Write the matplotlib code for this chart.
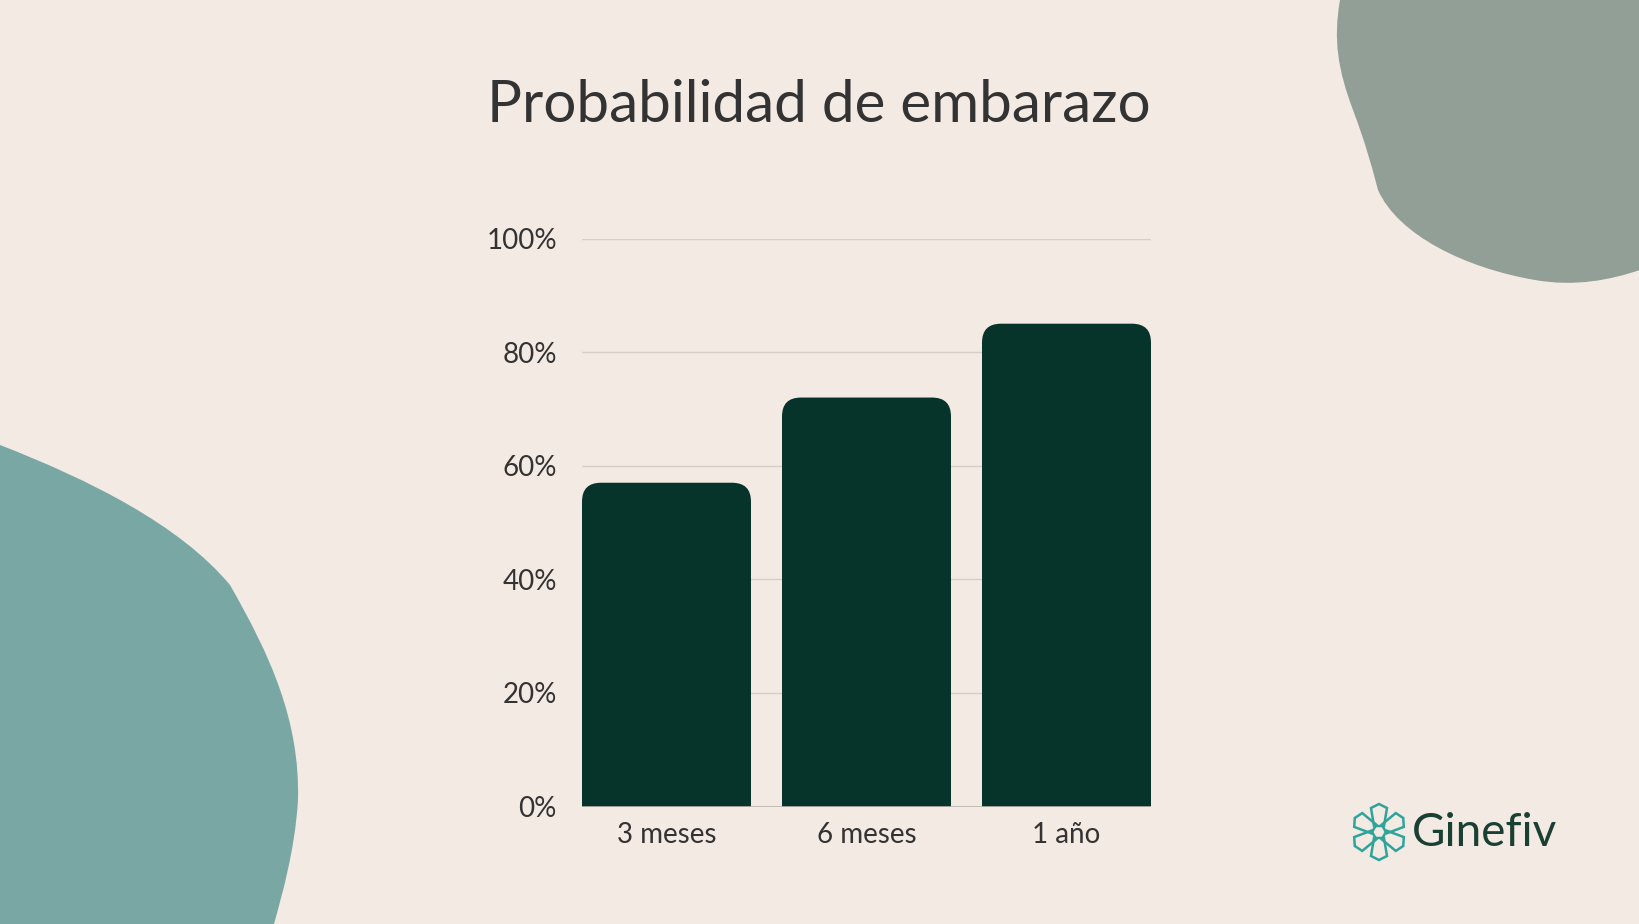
import numpy as np
import matplotlib.pyplot as plt
from matplotlib.patches import FancyBboxPatch, Rectangle, PathPatch, Polygon
from matplotlib.path import Path

# data
categories = ['3 meses', '6 meses', '1 año']
values = [57, 72, 85]
yticks = [0, 20, 40, 60, 80, 100]
ytick_labels = ['0%', '20%', '40%', '60%', '80%', '100%']

bg = '#F4EAE4'
bar_color = '#06332A'
text_color = '#333333'
W, H = 1640, 924

fig = plt.figure(figsize=(16.4, 9.24), dpi=100, facecolor=bg)

# background decoration in pixel coordinates (y down)
deco = fig.add_axes([0, 0, 1, 1], zorder=0)
deco.set_xlim(0, W)
deco.set_ylim(H, 0)
deco.axis('off')
deco.set_facecolor(bg)

# top-right blob
tr = [(1340, 0), (1333, 40), (1338, 70), (1353, 110),
      (1366, 145), (1370, 160), (1378, 190),
      (1398, 235), (1465, 268), (1535, 280),
      (1575, 287), (1610, 280), (1640, 270),
      (1640, 0), (1340, 0)]
tr_codes = [Path.MOVETO, Path.CURVE4, Path.CURVE4, Path.CURVE4,
            Path.CURVE4, Path.CURVE4, Path.CURVE4,
            Path.CURVE4, Path.CURVE4, Path.CURVE4,
            Path.CURVE4, Path.CURVE4, Path.CURVE4,
            Path.LINETO, Path.CLOSEPOLY]
deco.add_patch(PathPatch(Path(tr, tr_codes), fc='#929F96', ec='none'))

# bottom-left blob
bl = [(0, 445), (90, 480), (180, 525), (230, 585),
      (270, 655), (300, 720), (298, 800),
      (295, 850), (282, 895), (274, 924),
      (0, 924), (0, 445)]
bl_codes = [Path.MOVETO, Path.CURVE4, Path.CURVE4, Path.CURVE4,
            Path.CURVE4, Path.CURVE4, Path.CURVE4,
            Path.CURVE4, Path.CURVE4, Path.CURVE4,
            Path.LINETO, Path.CLOSEPOLY]
deco.add_patch(PathPatch(Path(bl, bl_codes), fc='#79A8A4', ec='none'))

# logo icon: six petals around a centre
cx, cy = 1379, 832
for k in range(6):
    a = np.deg2rad(90 + 60 * k)
    d = np.array([np.cos(a), -np.sin(a)])
    n = np.array([-d[1], d[0]])
    pts = [(cx, cy) + d * 6 + n * 5, (cx, cy) + d * 24 + n * 8,
           (cx, cy) + d * 28, (cx, cy) + d * 24 - n * 8,
           (cx, cy) + d * 6 - n * 5]
    deco.add_patch(Polygon(pts, closed=True, fc='none', ec='#2FA49A', lw=1.8))
deco.text(1412, 833, 'Ginefiv', fontsize=33, color='#1A4034',
          family='Lato', va='center', ha='left')

# title
fig.text(819 / W, 1 - 106 / H, 'Probabilidad de embarazo', fontsize=42,
         color=text_color, family='Lato', ha='center', va='center')

# chart
ax = fig.add_axes([582 / W, 117.5 / H, 569 / W, 568 / H], zorder=1)
ax.set_facecolor('none')
x = np.arange(len(categories))
width = 0.845
ax.set_xlim(-width / 2, len(categories) - 1 + width / 2)
ax.set_ylim(0, 100)

r = 0.095  # corner radius in x units
aspect = 35
for xi, v in zip(x, values):
    ax.add_patch(FancyBboxPatch((xi - width / 2, 0), width, v,
                                boxstyle=f'round,pad=0,rounding_size={r}',
                                mutation_aspect=aspect,
                                fc=bar_color, ec='none', zorder=3))
    ax.add_patch(Rectangle((xi - width / 2, 0), width, v - r * aspect - 1,
                           fc=bar_color, ec='none', zorder=3))

ax.set_yticks(yticks)
ax.set_yticklabels(ytick_labels)
ax.set_xticks(x)
ax.set_xticklabels(categories)
ax.grid(axis='y', color='#D8CDC8', lw=1, zorder=0)
ax.axhline(0, color='#BDB3AE', lw=1.2, zorder=4)
for s in ax.spines.values():
    s.set_visible(False)
ax.tick_params(length=0, labelsize=20, labelcolor=text_color)
ax.tick_params(axis='y', pad=18)
ax.tick_params(axis='x', pad=11)
for lab in ax.get_xticklabels() + ax.get_yticklabels():
    lab.set_family('Lato')

fig.savefig('out.png', dpi=100, facecolor=bg)
